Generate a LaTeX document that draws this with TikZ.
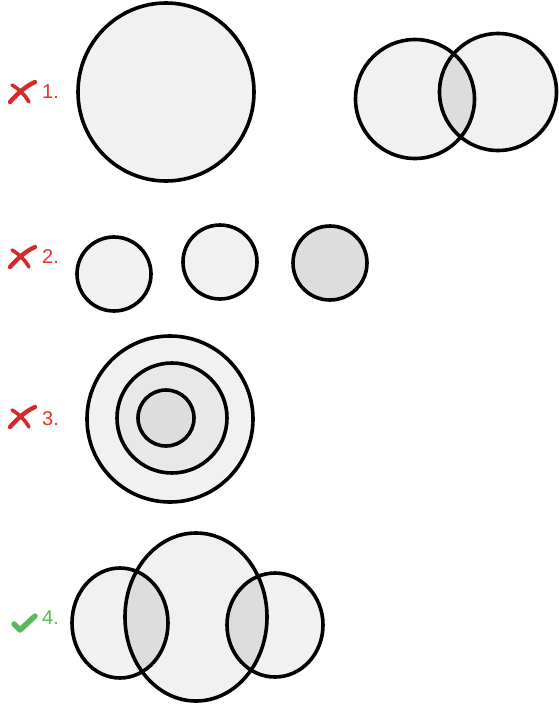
\documentclass[tikz,border=0pt]{standalone}
\usepackage{fontspec}
\setmainfont{Liberation Sans}
\begin{document}
\begin{tikzpicture}[x=1pt,y=-1pt,
  ring/.style={line width=3.6pt, draw=black},
  lbl/.style={font=\fontsize{20}{20}\selectfont, anchor=west, inner sep=0pt},
  wrongmark/.pic={
    \draw[line width=4.4pt, line cap=round, draw=crossred] (-12,10) .. controls (-4,1) and (4,-6) .. (13,-10);
    \draw[line width=3.6pt, line cap=round, draw=crossred] (-10,-7) .. controls (-3,-3) and (3,3) .. (7,10);
  },
  rightmark/.pic={
    \draw[line width=5.5pt, line cap=round, line join=round, draw=checkgreen] (-10,0) -- (-4,6) -- (11,-8);
  }]
\definecolor{basefill}{HTML}{F1F1F1}
\definecolor{midfill}{HTML}{E8E8E8}
\definecolor{darkfill}{HTML}{DDDDDD}
\definecolor{crossred}{HTML}{D42A2A}
\definecolor{labelred}{HTML}{E8312F}
\definecolor{checkgreen}{HTML}{5CB85C}
\definecolor{labelgreen}{HTML}{4CC34C}
\useasboundingbox (0,0) rectangle (558,705);

% ---------- row 1 ----------
\coordinate (c1a) at (166,92);
\coordinate (c1b) at (415,99);
\coordinate (c1c) at (498,92);
\fill[basefill] (c1a) ellipse [x radius=88, y radius=89];
\fill[basefill] (c1b) circle [radius=59.5];
\fill[basefill] (c1c) circle [radius=58.5];
\begin{scope}
  \clip (c1b) circle [radius=59.5];
  \fill[darkfill] (c1c) circle [radius=58.5];
\end{scope}
\draw[ring] (c1a) ellipse [x radius=88, y radius=89];
\draw[ring] (c1b) circle [radius=59.5];
\draw[ring] (c1c) circle [radius=58.5];
\pic at (22,92) {wrongmark};
\node[lbl, text=labelred] (l1) at (42,92) {1.};

% ---------- row 2 ----------
\coordinate (c2a) at (114,274);
\coordinate (c2b) at (220,262);
\coordinate (c2c) at (330,263);
\draw[ring, fill=basefill] (c2a) circle [radius=37];
\draw[ring, fill=basefill] (c2b) circle [radius=37];
\draw[ring, fill=darkfill] (c2c) circle [radius=37];
\pic at (22,257) {wrongmark};
\node[lbl, text=labelred] (l2) at (42,257) {2.};

% ---------- row 3 ----------
\coordinate (c3a) at (170,419);
\coordinate (c3b) at (172,418);
\coordinate (c3c) at (166,418);
\draw[ring, fill=basefill] (c3a) circle [radius=83];
\draw[ring, fill=midfill] (c3b) circle [radius=55];
\draw[ring, fill=darkfill] (c3c) circle [radius=28];
\pic at (22,417) {wrongmark};
\node[lbl, text=labelred] (l3) at (42,419) {3.};

% ---------- row 4 ----------
\coordinate (c4m) at (196,617);
\coordinate (c4l) at (120,623);
\coordinate (c4r) at (275,625);
\fill[basefill] (c4m) ellipse [x radius=71, y radius=84];
\fill[basefill] (c4l) ellipse [x radius=48, y radius=55];
\fill[basefill] (c4r) ellipse [x radius=48, y radius=52];
\begin{scope}
  \clip (c4m) ellipse [x radius=71, y radius=84];
  \fill[darkfill] (c4l) ellipse [x radius=48, y radius=55];
  \fill[darkfill] (c4r) ellipse [x radius=48, y radius=52];
\end{scope}
\draw[ring] (c4m) ellipse [x radius=71, y radius=84];
\draw[ring] (c4l) ellipse [x radius=48, y radius=55];
\draw[ring] (c4r) ellipse [x radius=48, y radius=52];
\pic at (24,624) {rightmark};
\node[lbl, text=labelgreen] (l4) at (42,618) {4.};
\end{tikzpicture}
\end{document}
